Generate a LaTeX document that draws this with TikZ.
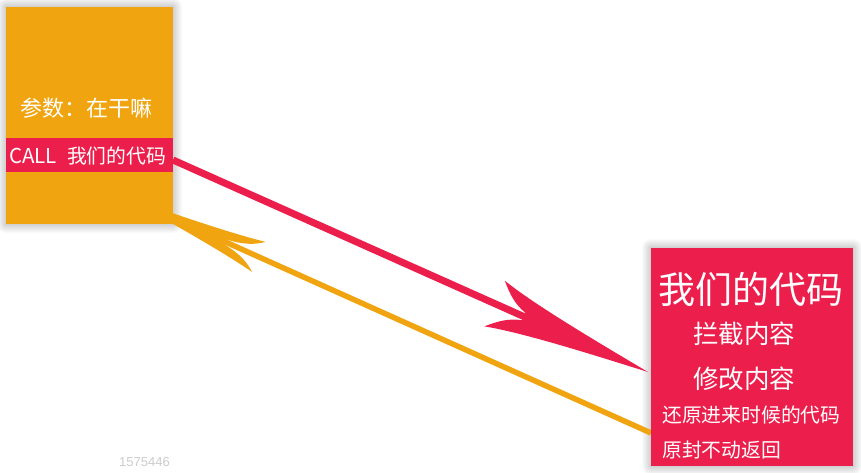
\documentclass[tikz,border=0pt]{standalone}
\usepackage{fontspec}
\newfontfamily\cjk{Noto Sans CJK SC}
\newfontfamily\wmfont{Liberation Sans}
\pgfdeclarelayer{bg}
\pgfdeclarelayer{shade}
\pgfsetlayers{bg,shade,main}
\definecolor{boxorange}{RGB}{240,165,16}
\definecolor{boxred}{RGB}{236,30,76}
\begin{document}
\begin{tikzpicture}[x=1pt,y=-1pt,
  box/.style={inner sep=0pt, outer sep=0pt, anchor=north west},
  txt/.style={text=white, inner sep=0pt},
  fs/.style={font={\cjk\fontsize{#1}{#1}\selectfont}},
]
\useasboundingbox (0,0) rectangle (861,473);

% boxes
\node[box, fill=boxorange, minimum width=167pt, minimum height=217pt] (lbox) at (6,7) {};
\node[box, fill=boxred, minimum width=167pt, minimum height=34pt] (band) at (6,138) {};
\node[box, fill=boxred, minimum width=202pt, minimum height=218pt] (rbox) at (651,248) {};

% texts
\node[txt, fs=22] (param) at (86,108) {参数：在干嘛};
\node[txt, fs=19.8, anchor=west] (call) at (9,156) {{\fontsize{20.5}{20.5}\selectfont CALL}\hspace{10pt}我们的代码};
\node[txt, fs=37] (t1) at (751,289) {我们的代码};
\node[txt, fs=25.5] (t2) at (744,334) {拦截内容};
\node[txt, fs=25.5] (t3) at (744,379) {修改内容};
\node[txt, fs=19.8, anchor=west] (t4) at (662,415) {还原进来时候的代码};
\node[txt, fs=19.8, anchor=west] (t5) at (662,450) {原封不动返回};
\node[text=black!20, inner sep=0pt, anchor=west, font={\wmfont\fontsize{13}{13}\selectfont}] (wm) at (119,462) {1575446};

% soft shadows
\begin{pgfonlayer}{shade}
  \foreach \s in {1,...,9} {
    \fill[black, opacity=0.018, rounded corners=\s pt, shift={(3pt,-5pt)}]
      ([xshift=-\s pt, yshift=\s pt]lbox.north west) rectangle ([xshift=\s pt, yshift=-\s pt]lbox.south east);
    \fill[black, opacity=0.018, rounded corners=\s pt, shift={(2pt,-4pt)}]
      ([xshift=-\s pt, yshift=\s pt]rbox.north west) rectangle ([xshift=\s pt, yshift=-\s pt]rbox.south east);
  }
\end{pgfonlayer}

% arrows
\coordinate (rtip) at (648,372);
\coordinate (otip) at (122,195.5);
\begin{pgfonlayer}{bg}
  \fill[white] (0,0) rectangle (861,473);
\end{pgfonlayer}
\begin{pgfonlayer}{shade}
  \draw[boxred, line width=7pt, shorten >=134pt] ([yshift=-5pt]band.east) -- (rtip);
  \fill[boxred, shift={(rtip)}, rotate=-24.05]
    (0,0) .. controls (-60,-7) and (-130,-15) .. (-168,-25)
    .. controls (-158,-15) and (-150,-8) .. (-136,-4)
    -- (-136,4)
    .. controls (-150,8) and (-158,15) .. (-168,25)
    .. controls (-130,15) and (-60,7) .. (0,0) -- cycle;
  \draw[boxorange, line width=5.5pt, shorten >=112pt] ([yshift=-76pt]rbox.west) -- (otip);
  \fill[boxorange, shift={(otip)}, rotate=155.82]
    (0,0) .. controls (-55,-4.5) and (-115,-10) .. (-150,-16.5)
    .. controls (-142,-10) and (-132,-5) .. (-114,-2.8)
    -- (-114,2.8)
    .. controls (-132,5) and (-142,10) .. (-150,16.5)
    .. controls (-115,10) and (-55,4.5) .. (0,0) -- cycle;
\end{pgfonlayer}
\end{tikzpicture}
\end{document}
